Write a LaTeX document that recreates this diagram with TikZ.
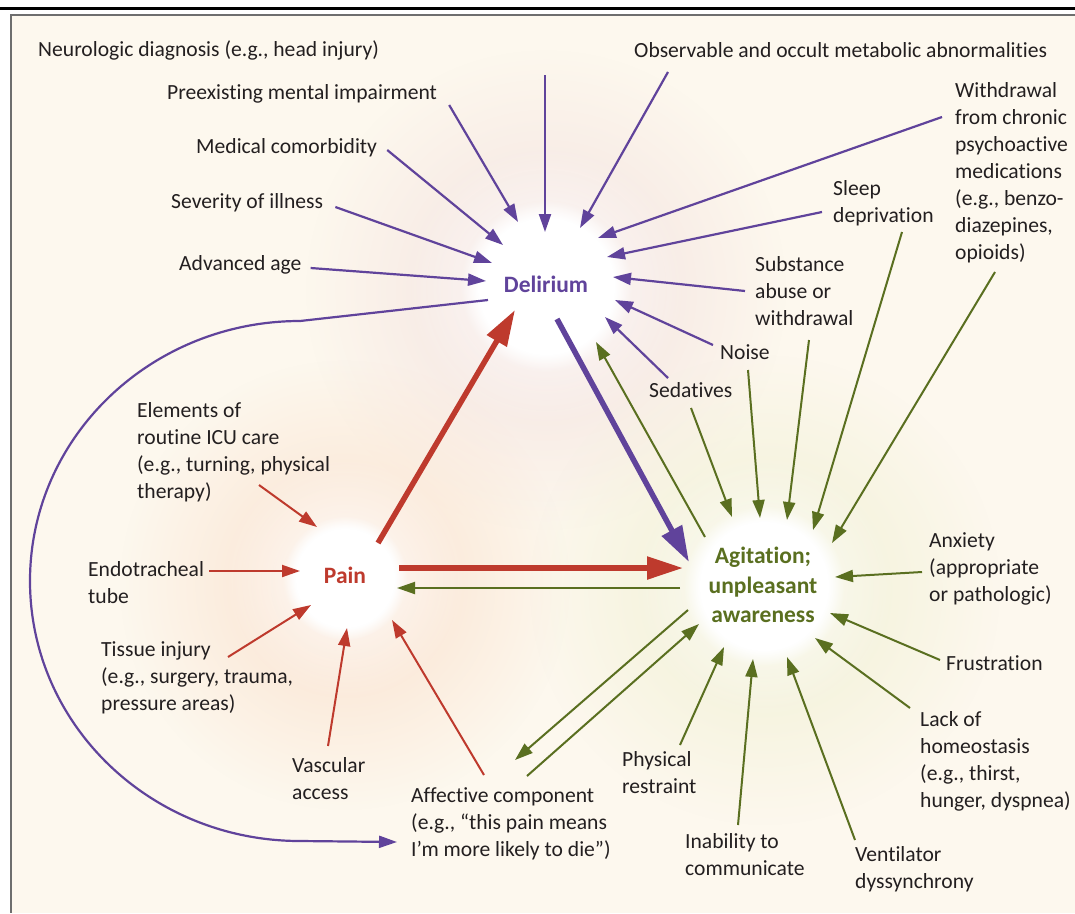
\documentclass[tikz,border=0pt]{standalone}
\usepackage{fontspec}
\setmainfont{Carlito}[Ligatures=NoCommon]
\usetikzlibrary{arrows.meta, calc, fadings}

\definecolor{ink}{RGB}{35,31,32}
\definecolor{delcol}{RGB}{96,67,155}
\definecolor{paincol}{RGB}{190,58,45}
\definecolor{agitcol}{RGB}{90,111,32}
\definecolor{bgcol}{RGB}{253,248,238}
\definecolor{framegray}{RGB}{110,110,110}
\definecolor{delglow}{RGB}{243,224,222}
\definecolor{painglow}{RGB}{250,224,204}
\definecolor{agitglow}{RGB}{240,240,210}

\tikzfading[name=glowfade, inner color=transparent!0, outer color=transparent!100]

\begin{document}
\begin{tikzpicture}[x=1pt, y=-1pt,
    lbl/.style={font=\fontsize{21.6}{27}\selectfont, text=ink, inner sep=0pt, align=left, anchor=west},
    hub/.style={font=\bfseries\fontsize{23.5}{29.5}\selectfont, inner sep=0pt, align=center},
    tip/.style={-{Triangle[length=18pt, width=12pt]}},
    purarr/.style={tip, draw=delcol, line width=2.2pt},
    redarr/.style={tip, draw=paincol, line width=2pt},
    grnarr/.style={tip, draw=agitcol, line width=2pt},
    bigarr/.style={line width=5.5pt, -{Triangle[length=36pt, width=22pt]}}
  ]
  \useasboundingbox (0,0) rectangle (1075,913);

  % frame and background
  \fill[bgcol] (11,15) rectangle (1075,913);
  \draw[line width=3pt] (0,8.7) -- (1075,8.7);
  \draw[framegray, line width=2pt] (10,15) -- (1075,15);
  \draw[framegray, line width=2pt] (11,15) -- (11,913);

  % glows behind the three hubs
  \fill[delglow, path fading=glowfade] (546,290) circle (240);
  \fill[painglow, path fading=glowfade] (345,585) circle (225);
  \fill[agitglow, path fading=glowfade] (765,590) circle (235);
  \fill[white, path fading=glowfade] (546,286) circle (140);
  \fill[white, path fading=glowfade] (345,578) circle (120);
  \fill[white, path fading=glowfade] (764,586) circle (130);
  \fill[white, path fading=circle with fuzzy edge 20 percent] (546,286) circle (85);
  \fill[white, path fading=circle with fuzzy edge 20 percent] (345,578) circle (62);
  \fill[white, path fading=circle with fuzzy edge 20 percent] (764,586) circle (80);

  % hubs
  \node[hub, text=delcol] (del) at (546,284) {Delirium};
  \node[hub, text=paincol] (pain) at (345,575) {Pain};
  \node[hub, text=agitcol] (agit) at (763,585) {Agitation;\\unpleasant\\awareness};

  % labels around delirium
  \node[lbl] (neuro) at (38,50) {Neurologic diagnosis (e.g., head injury)};
  \node[lbl] (preex) at (167,94) {Preexisting mental impairment};
  \node[lbl] (comorb) at (196,148) {Medical comorbidity};
  \node[lbl] (sever) at (171,203) {Severity of illness};
  \node[lbl] (age) at (179,265) {Advanced age};
  \node[lbl] (metab) at (634,50) {Observable and occult metabolic abnormalities};
  \node[lbl] (withd) at (955,173) {Withdrawal\\from chronic\\psychoactive\\medications\\(e.g., benzo-\\diazepines,\\opioids)};
  \node[lbl] (sleep) at (833,203.5) {Sleep\\deprivation};
  \node[lbl] (subst) at (755,291) {Substance\\abuse or\\withdrawal};
  \node[lbl] (noise) at (720,352) {Noise};
  \node[lbl] (sedat) at (649,390) {Sedatives};

  % labels around pain
  \node[lbl] (elems) at (137,452.5) {Elements of\\routine ICU care\\(e.g., turning, physical\\therapy)};
  \node[lbl] (endo) at (88,583) {Endotracheal\\tube};
  \node[lbl] (tissue) at (101,678) {Tissue injury\\(e.g., surgery, trauma,\\pressure areas)};
  \node[lbl] (vasc) at (292,778.5) {Vascular\\access};
  \node[lbl] (affect) at (411,824) {Affective component\\(e.g., “this pain means\\I’m more likely to die”)};

  % labels around agitation
  \node[lbl] (restr) at (622,773) {Physical\\restraint};
  \node[lbl] (inab) at (685,855) {Inability to\\communicate};
  \node[lbl] (vent) at (855,869) {Ventilator\\dyssynchrony};
  \node[lbl] (homeo) at (920,761.5) {Lack of\\homeostasis\\(e.g., thirst,\\hunger, dyspnea)};
  \node[lbl] (frust) at (946,663) {Frustration};
  \node[lbl] (anx) at (929,569) {Anxiety\\(appropriate\\or pathologic)};

  % purple arrows into delirium
  \coordinate (neurotail) at (545,75);
  \draw[purarr] (neurotail) -- ($(del)+(-1,-52)$);
  \draw[purarr] ($(preex.east)+(12,11)$) -- ($(del)+(-28,-62)$);
  \draw[purarr] ($(comorb.east)+(10,2)$) -- ($(del)+(-43,-39)$);
  \draw[purarr] ($(sever.east)+(12,4)$) -- ($(del)+(-54,-21)$);
  \draw[purarr] ($(age.east)+(9,3)$) -- ($(del)+(-60,-3)$);
  \draw[purarr] ($(metab.west)+(34,22)$) -- ($(del)+(34,-56)$);
  \draw[purarr] ($(withd.west)+(-13,-56)$) -- ($(del)+(52,-46)$);
  \draw[purarr] ($(sleep.west)+(-11,8.5)$) -- ($(del)+(61,-27)$);
  \draw[purarr] ($(subst.west)+(-10,0)$) -- ($(del)+(67,-7)$);
  \draw[purarr] ($(noise.west)+(-7,-7)$) -- ($(del)+(69,16)$);
  \draw[purarr] ($(sedat.west)+(19,-12)$) -- ($(del)+(59,33)$);

  % delirium back round to the affective component
  \draw[purarr] ($(del)+(-58,16)$) -- (300,321)
    .. controls (151,321) and (30,437) .. (30,581)
    .. controls (30,725) and (151,841) .. (300,841)
    -- ($(affect.west)+(-14,18)$);

  % red arrows into pain
  \draw[redarr] ($(elems.west)+(122,32.5)$) -- ($(pain)+(-28,-48)$);
  \draw[redarr] ($(endo.east)+(5,-12)$) -- ($(pain)+(-45,-4)$);
  \draw[redarr] ($(tissue.west)+(127,-21)$) -- ($(pain)+(-34,30)$);
  \draw[redarr] ($(vasc.west)+(36,-32.5)$) -- ($(pain)+(2,53)$);
  \draw[redarr] ($(affect.west)+(73,-49)$) -- ($(pain)+(47,45)$);

  % green arrows into agitation
  \draw[grnarr] ($(sedat.west)+(42,18)$) -- ($(agit)+(-31,-68)$);
  \draw[grnarr] ($(noise.west)+(28,18)$) -- ($(agit)+(-3,-67)$);
  \draw[grnarr] ($(subst.west)+(54,49)$) -- ($(agit)+(24,-65)$);
  \draw[grnarr] ($(sleep.west)+(69,28.5)$) -- ($(agit)+(50,-55)$);
  \draw[grnarr] ($(withd.west)+(40,99)$) -- ($(agit)+(69,-42)$);
  \draw[grnarr] ($(anx.west)+(-7,3)$) -- ($(agit)+(72,-8)$);
  \draw[grnarr] ($(frust.west)+(-6,-3)$) -- ($(agit)+(67,28)$);
  \draw[grnarr] ($(homeo.west)+(-10,-53.5)$) -- ($(agit)+(52,53)$);
  \draw[grnarr] ($(vent.west)+(0,-29)$) -- ($(agit)+(24,72)$);
  \draw[grnarr] ($(inab.west)+(53,-30)$) -- ($(agit)+(-10,74)$);
  \draw[grnarr] ($(restr.west)+(58,-28)$) -- ($(agit)+(-39,62)$);

  % arrows between the hubs
  \draw[bigarr, draw=paincol, fill=paincol] ($(pain)+(33,-32)$) -- ($(del)+(-31,26)$);
  \draw[bigarr, draw=delcol, fill=delcol] ($(del)+(11,35)$) -- ($(agit)+(-74,-23)$);
  \draw[bigarr, draw=paincol, fill=paincol] ($(pain)+(54,-7)$) -- ($(agit)+(-80,-17)$);
  \draw[grnarr] ($(agit)+(-83,3)$) -- ($(pain)+(52,13)$);
  \draw[grnarr] ($(agit)+(-58,-48)$) -- ($(del)+(50,58)$);
  \draw[grnarr] ($(agit)+(-75,25)$) -- ($(affect.west)+(104,-64)$);
  \draw[grnarr] ($(affect.west)+(116,-48)$) -- ($(agit)+(-64,39)$);
\end{tikzpicture}
\end{document}
